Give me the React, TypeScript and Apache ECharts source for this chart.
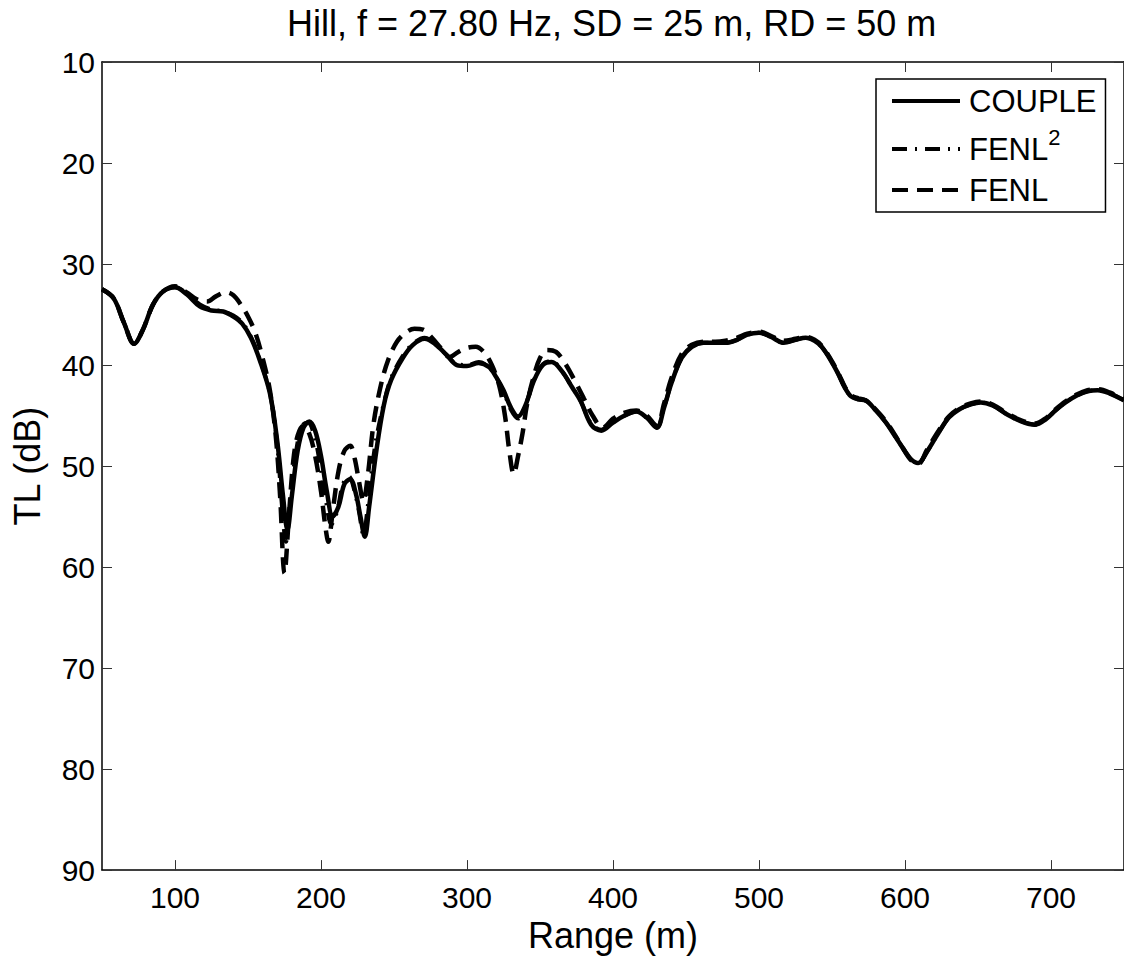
import React, { useEffect, useRef } from "react";
import * as echarts from "echarts";

const titleText = "Hill, f = 27.80 Hz, SD = 25 m, RD = 50 m";
const xTicks = [100, 200, 300, 400, 500, 600, 700];

const couple: [number, number][] = [
  [50, 32.5], [58, 33.4], [65, 35.8], [72, 37.9], [78, 36.5], [85, 34.0], [92, 32.7], [100, 32.3],
  [108, 33.0], [117, 34.2], [125, 34.6], [133, 34.7], [140, 35.2], [146, 35.9], [152, 37.3], [158, 39.5],
  [165, 42.8], [170, 47.5], [174, 53.0], [177, 56.3], [180, 53.0], [184, 48.5], [188, 46.2], [192, 45.6],
  [196, 46.5], [200, 49.0], [204, 52.5], [208, 55.0], [212, 54.0], [216, 51.8], [220, 51.3], [224, 52.8],
  [227, 55.0], [230, 57.0], [233, 54.0], [238, 48.4], [243, 44.0], [248, 41.5], [256, 39.3], [263, 38.0],
  [271, 37.4], [278, 37.9], [286, 39.0], [293, 40.0], [300, 40.1], [308, 39.8], [315, 40.2], [320, 41.2],
  [325, 42.5], [330, 44.2], [335, 45.1], [340, 44.0], [346, 41.5], [352, 40.0], [358, 39.7], [365, 40.6],
  [372, 42.2], [378, 43.6], [385, 45.9], [392, 46.5], [400, 45.7], [408, 45.0], [416, 44.6], [423, 45.2],
  [430, 46.2], [435, 44.2], [440, 41.8], [447, 39.3], [454, 38.2], [462, 37.8], [470, 37.8], [477, 37.8],
  [485, 37.5], [492, 37.0], [500, 36.8], [508, 37.2], [517, 37.8], [525, 37.5], [532, 37.3], [538, 37.6],
  [543, 38.2], [549, 39.5], [554, 40.8], [559, 42.3], [563, 43.1], [568, 43.4], [573, 43.5], [580, 44.5],
  [587, 45.7], [593, 47.0], [598, 48.1], [604, 49.3], [609, 49.7], [615, 48.6], [623, 46.7], [630, 45.2],
  [637, 44.4], [645, 43.9], [652, 43.7], [660, 44.0], [670, 44.9], [680, 45.6], [689, 45.9], [697, 45.3],
  [703, 44.5], [710, 43.7], [718, 43.0], [725, 42.6], [732, 42.5], [740, 42.8], [750, 43.5],
];

const fenl2: [number, number][] = [
  [50, 32.5], [58, 33.4], [65, 35.8], [72, 37.9], [78, 36.5], [85, 34.0], [92, 32.7], [100, 32.3],
  [108, 32.9], [117, 34.0], [125, 34.5], [133, 34.7], [140, 35.1], [146, 35.8], [152, 37.2], [158, 39.4],
  [165, 42.8], [170, 47.8], [173, 53.5], [176, 57.5], [179, 53.0], [183, 48.5], [187, 46.0], [191, 45.7],
  [195, 46.8], [199, 49.5], [203, 53.0], [207, 55.8], [211, 54.5], [215, 51.8], [219, 51.0], [223, 52.5],
  [226, 54.5], [229, 56.8], [232, 54.0], [237, 48.0], [243, 43.8], [248, 41.3], [256, 39.1], [263, 37.9],
  [271, 37.3], [278, 37.9], [286, 39.0], [293, 39.9], [300, 40.0], [308, 39.7], [315, 40.2], [320, 41.2],
  [325, 42.6], [330, 44.4], [335, 45.3], [340, 44.0], [346, 41.4], [352, 39.9], [358, 39.6], [365, 40.6],
  [372, 42.2], [378, 43.6], [385, 45.8], [392, 46.4], [400, 45.6], [408, 45.0], [416, 44.6], [423, 45.2],
  [430, 46.2], [435, 44.2], [440, 41.8], [447, 39.3], [454, 38.2], [462, 37.8], [470, 37.8], [477, 37.8],
  [485, 37.5], [492, 37.0], [500, 36.8], [508, 37.2], [517, 37.8], [525, 37.5], [532, 37.3], [538, 37.6],
  [543, 38.2], [549, 39.5], [554, 40.8], [559, 42.3], [563, 43.1], [568, 43.4], [573, 43.5], [580, 44.5],
  [587, 45.7], [593, 47.0], [598, 48.1], [604, 49.3], [609, 49.7], [615, 48.6], [623, 46.7], [630, 45.2],
  [637, 44.4], [645, 43.9], [652, 43.7], [660, 44.0], [670, 44.9], [680, 45.6], [689, 45.9], [697, 45.3],
  [703, 44.5], [710, 43.7], [718, 43.0], [725, 42.6], [732, 42.5], [740, 42.8], [750, 43.5],
];

const fenl: [number, number][] = [
  [50, 32.5], [58, 33.4], [65, 35.8], [72, 37.9], [78, 36.5], [85, 34.0], [92, 32.7], [100, 32.2],
  [108, 32.8], [115, 33.5], [122, 33.7], [128, 33.2], [135, 32.8], [140, 33.1], [145, 34.0], [150, 35.2],
  [155, 36.8], [160, 39.3], [165, 42.5], [169, 47.0], [172, 53.0], [175, 60.6], [178, 55.0], [181, 49.5],
  [184, 47.0], [188, 46.0], [192, 46.8], [196, 49.0], [200, 52.5], [203, 56.0], [205, 57.5], [208, 54.5],
  [212, 50.5], [216, 48.5], [220, 48.0], [223, 49.2], [226, 51.5], [229, 53.5], [232, 51.0], [236, 45.8],
  [241, 42.0], [246, 39.5], [252, 37.7], [258, 36.8], [264, 36.4], [270, 36.5], [276, 37.3], [282, 38.3],
  [288, 39.2], [294, 38.7], [300, 38.3], [306, 38.2], [312, 38.8], [317, 40.0], [322, 42.0], [326, 45.0],
  [329, 48.5], [332, 50.8], [335, 49.0], [338, 46.8], [341, 44.0], [345, 41.5], [350, 39.3], [355, 38.5],
  [361, 38.7], [367, 39.8], [374, 41.6], [380, 43.3], [386, 45.0], [393, 46.2], [400, 45.3], [408, 44.7],
  [416, 44.5], [423, 45.0], [430, 46.0], [435, 43.8], [440, 41.3], [447, 38.9], [454, 38.0], [462, 37.7],
  [470, 37.7], [477, 37.6], [485, 37.3], [492, 36.9], [500, 36.7], [508, 37.1], [517, 37.6], [525, 37.4],
  [532, 37.2], [538, 37.5], [543, 38.1], [549, 39.4], [554, 40.7], [559, 42.2], [563, 43.0], [568, 43.3],
  [573, 43.5], [580, 44.4], [587, 45.6], [593, 46.9], [598, 48.1], [604, 49.4], [609, 49.8], [615, 48.4],
  [623, 46.5], [630, 45.1], [637, 44.3], [645, 43.8], [652, 43.6], [660, 43.9], [670, 44.8], [680, 45.5],
  [689, 45.8], [697, 45.2], [703, 44.4], [710, 43.6], [718, 42.9], [725, 42.5], [732, 42.4], [740, 42.7],
  [750, 43.4],
];

const FONT = "'Liberation Sans', Arial, Helvetica, sans-serif";

export default function App() {
  const ref = useRef<HTMLDivElement>(null);
  useEffect(() => {
    document.body.style.margin = "0";
    const chart = echarts.init(ref.current!, null, { renderer: "svg" });
    const tickStyle = { show: true, inside: true, length: 10, lineStyle: { color: "#333", width: 1 } };
    const axisLine = { show: true, lineStyle: { color: "#000", width: 1.5 } };
    chart.setOption({
      animation: false,
      backgroundColor: "#fff",
      textStyle: { fontFamily: FONT },
      title: {
        text: titleText,
        left: 287,
        top: 5,
        padding: 0,
        textStyle: { fontSize: 36, fontWeight: "normal", color: "#000", fontFamily: FONT },
      },
      grid: { left: 102, top: 62, width: 1023, height: 809, containLabel: false },
      legend: {
        orient: "vertical",
        left: 876,
        top: 79,
        padding: [6, 9, 6, 14],
        itemGap: 9,
        itemWidth: 68,
        itemHeight: 30,
        borderColor: "#000",
        borderWidth: 1.5,
        backgroundColor: "#fff",
        itemStyle: { opacity: 0, borderWidth: 0 },
        lineStyle: { width: 4 },
        data: ["COUPLE", "FENL2", "FENL"],
        formatter: (name: string) => (name === "FENL2" ? "FENL{sup|2}" : name),
        textStyle: {
          fontSize: 31,
          lineHeight: 32,
          color: "#000",
          fontFamily: FONT,
          padding: [0, 0, 0, 4],
          rich: {
            sup: { fontSize: 22, lineHeight: 22, color: "#000", fontFamily: FONT, verticalAlign: "top", padding: [-7, 0, 0, 0] },
          },
        },
      },
      xAxis: [
        {
          type: "value",
          min: 50,
          max: 750,
          position: "bottom",
          name: "Range (m)",
          nameLocation: "middle",
          nameGap: 40,
          nameTextStyle: { fontSize: 36, color: "#000", fontFamily: FONT },
          axisLine,
          axisTick: { ...tickStyle, customValues: xTicks },
          axisLabel: { customValues: xTicks, fontSize: 30, color: "#000", margin: 12, fontFamily: FONT },
          splitLine: { show: false },
        },
        {
          type: "value",
          min: 50,
          max: 750,
          position: "top",
          axisLine,
          axisTick: { ...tickStyle, customValues: xTicks },
          axisLabel: { show: false },
          splitLine: { show: false },
        },
      ],
      yAxis: [
        {
          type: "value",
          inverse: true,
          min: 10,
          max: 90,
          interval: 10,
          position: "left",
          name: "TL (dB)",
          nameLocation: "middle",
          nameRotate: 90,
          nameGap: 57,
          nameTextStyle: { fontSize: 36, color: "#000", fontFamily: FONT },
          axisLine,
          axisTick: tickStyle,
          axisLabel: { fontSize: 30, color: "#000", margin: 7, fontFamily: FONT },
          splitLine: { show: false },
        },
        {
          type: "value",
          inverse: true,
          min: 10,
          max: 90,
          interval: 10,
          position: "right",
          axisLine,
          axisTick: tickStyle,
          axisLabel: { show: false },
          splitLine: { show: false },
        },
      ],
      series: [
        {
          name: "COUPLE",
          type: "line",
          data: couple,
          symbol: "none",
          smooth: 0.35,
          lineStyle: { color: "#000", width: 4.5, type: "solid" },
          itemStyle: { color: "#000" },
        },
        {
          name: "FENL2",
          type: "line",
          data: fenl2,
          symbol: "none",
          smooth: 0.35,
          lineStyle: { color: "#000", width: 4, type: [15, 8, 2, 8] },
          itemStyle: { color: "#000" },
        },
        {
          name: "FENL",
          type: "line",
          data: fenl,
          symbol: "none",
          smooth: 0.35,
          lineStyle: { color: "#000", width: 4.5, type: [16, 9] },
          itemStyle: { color: "#000" },
        },
      ],
    });
    return () => chart.dispose();
  }, []);
  return <div ref={ref} style={{ width: 1124, height: 958 }} />;
}
